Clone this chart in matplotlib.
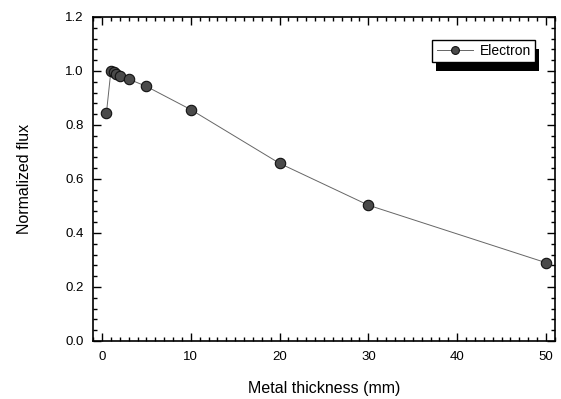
import matplotlib
matplotlib.use("Agg")
import matplotlib.pyplot as plt
from matplotlib.ticker import MultipleLocator
from matplotlib.patches import Rectangle

plt.rcParams['font.family'] = ['Liberation Sans', 'DejaVu Sans']

thickness = [0.5, 1.0, 1.3, 1.6, 2.0, 3.0, 5.0, 10.0, 20.0, 30.0, 50.0]
flux = [0.845, 1.0, 0.997, 0.99, 0.983, 0.97, 0.943, 0.857, 0.658, 0.503, 0.29]
series_name = "Electron"
xlabel = "Metal thickness (mm)"
ylabel = "Normalized flux"

fig = plt.figure(figsize=(5.61, 3.99), dpi=100)
ax = fig.add_axes([0.166, 0.1454, 0.823, 0.8120])

ax.plot(thickness, flux, color='#666666', lw=0.7, marker='o', ms=7.5,
        markerfacecolor='#4a4a4a', markeredgecolor='#111111', markeredgewidth=0.8,
        label=series_name)

ax.set_xlim(-1, 51)
ax.set_ylim(0, 1.2)
ax.xaxis.set_major_locator(MultipleLocator(10))
ax.xaxis.set_minor_locator(MultipleLocator(1))
ax.yaxis.set_major_locator(MultipleLocator(0.2))
ax.yaxis.set_minor_locator(MultipleLocator(0.04))
ax.yaxis.set_major_formatter(plt.FuncFormatter(lambda v, p: f"{v:.1f}"))
ax.tick_params(which='both', direction='in', top=True, right=True, labelsize=9.5, width=1.0)
ax.tick_params(which='major', length=6, pad=7)
ax.tick_params(which='minor', length=3)
for s in ax.spines.values():
    s.set_linewidth(1.2)

ax.set_xlabel(xlabel, fontsize=11.5, labelpad=13)
ax.set_ylabel(ylabel, fontsize=11.5, labelpad=24)

leg = ax.legend(loc='upper right', bbox_to_anchor=(0.957, 0.929), fontsize=10,
                frameon=True, fancybox=False, shadow=False, handlelength=2.6,
                borderpad=0.3, handletextpad=0.5, framealpha=1, markerscale=0.75,
                borderaxespad=0)
leg.get_frame().set_edgecolor('black')
leg.get_frame().set_linewidth(1.0)
leg.get_frame().set_facecolor('white')
fig.canvas.draw()
bb = leg.get_window_extent().transformed(fig.transFigure.inverted())
W, H = fig.get_size_inches() * fig.dpi
shadow = Rectangle((bb.x0 + 4 / W, bb.y0 - 9 / H), bb.width, bb.height,
                   transform=fig.transFigure, facecolor='black', edgecolor='none')
shadow.set_zorder(4)
ax.add_artist(shadow)
leg.set_zorder(5)

fig.savefig("out.png", dpi=100)
